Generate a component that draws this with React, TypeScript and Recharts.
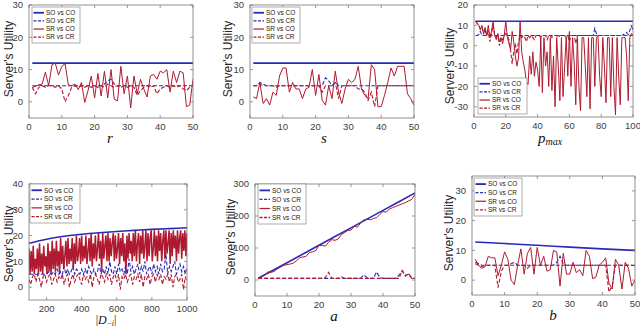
import { LineChart, Line, XAxis, YAxis } from 'recharts';

const BLUE = '#2a2ab9';
const RED = '#b01a30';
const FONT = '"Liberation Sans", Arial, sans-serif';
const MATH = '"Liberation Serif", "DejaVu Serif", serif';

// x categories
const range = (start: number, step: number, n: number) => Array.from({ length: n }, (_, i) => start + i * step);
const x50 = range(1, 1, 50);
const x100 = range(1, 1, 100);
const xD6 = range(100, 6, 151);
const xD10 = range(100, 10, 91);
const xEnds50 = [1, 50];
const xSix = [1, 10, 20, 30, 40, 50];
const xDcurve = [100, 200, 300, 400, 500, 600, 700, 800, 900, 1000];

// panel r
const rSoCo = [12, 12];
const rSoCr = [5, 5, 5.3, 5, 5, 5, 5, 5, 5, 5, 5, 5, 5, 5, 5, 5, 5, 5, 5, 5, 5, 5, 5.5, 6.5, 7, 5.5, 5, 5, 5, 5, 5, 5, 5, 5, 5, 5, 5, 5, 5, 5, 5, 5, 5, 5, 5, 5, 5, 5, 5, 5];
const rSrCo = [4.5, 4.8, 5.2, 5.5, 9.2, 5, 11.5, 12, 8.3, 11, 11.8, 5.2, 5, 5.5, 3.8, 6, -0.2, 3.5, 8, 1.2, 8.8, 1.8, 9.5, 1.2, 10, 0.8, 0.3, 11, 2.5, 8, -1.9, 8, 2.5, 7, 4, 1.5, 8, 8.5, 7, 9.5, 9, 10, 3, 9.5, 6, 9.5, 9, -1.5, -1, 7];
const rSrCr = [4.5, 2.5, 4.5, 5, 4.5, 5, 5, 4.5, 5, 4, 0, 2, 4.5, 5, 4.5, 5, 4.5, 5, 4.5, 5, 4.5, 5, 4.5, 5.5, 5, 4.5, 5, 4.5, 5, 4.5, 5, 4.5, 2, 3.5, 4.5, 5, 4.5, 5, 2.5, 4, 4.5, 5, 4.5, 5, 4.5, 5, 4, 3.5, 4.5, 5];

// panel s
const sSoCo = [12, 12];
const sSoCr = [5, 5, 6, 5.5, 5, 5, 5, 5, 5, 5, 5, 5, 5, 5, 5, 5, 5, 5, 5, 5, 5, 5, 7.5, 6.5, 5, 6, 5, 5, 5, 5, 5, 5, 5, 5, 5, 5, 5, 5, 5, 5, 5, 5, 5, 5, 5, 5, 5, 5, 5, 5];
const sSrCo = [1.5, 1, 6, -0.5, 1, -1, 3, 2, 8, 10.5, 10.5, 3, 6, 4, 4, 1, 4, 4.5, 10, 2, 8.5, 0.5, -1, 5, 1, 9.5, 3, -0.5, 4, 7, 6, 7, 11, 4, 2, 1, 11.5, 10, -1.5, -1.5, 2, 6, 10.5, 8, 11, 11, 11, 2.5, 1, -1];
const sSrCr = [5, 5, 5.5, 5, 5, 5, 5, 4.5, 5, 5, 5, 5, 5, 5, 5, 5, 5, 5, 5, 5, 5, 3, 5, 5, 5, 6, 1, 5, 5, 5, 5, 5, 4, 4, 3, 0.5, 3, -1.5, 5, 5, 5, 5, 5, 5, 5, 5, 5, 5, 5, 5];

// panel p_max
const pSoCo = [12, 12];
const pSoCr = [5, 5, 5.5, 7, 5, 5, 5, 5, 5, 5, 5, 5, 5, 5, 5, 5, 5, 5, 5, 5, 5, 5, 5, 5, 5, 5, 5, 5, 5, 5, 5, 5, 5, 5, 5, 5, 5, 5, 5, 5, 5, 5, 5, 5, 5, 5, 5, 5, 5, 5, 5, 5, 5, 5, 5, 5, 5, 5, 5, 5, 5, 5, 5, 5, 5, 5, 5, 5, 5, 5, 5, 5, 5, 5, 5, 8.5, 6, 5, 5, 5, 5, 5, 5, 5, 5, 5, 5, 5, 5, 5, 5, 5, 5, 5.5, 5, 6.5, 5.5, 7.5, 9.5, 8];
const pSrCo = [12, 11, 10, 8, 10, 6, 9, 5, 10, 4, 7, 12, 5, 3, 6, 2, 4, 1, 5, 12, 4, 1, -2, 7, 2, -5, -10, -6, 12, -3, -8, -12, -18, -19, -5, -14, -3, -15, -8, -12, -20, 4, -23, 4, -10, -3, -20, 4, -22, -5, -30, 4, -10, -27, 4, -25, -10, 4, -15, 7, -20, 4, -8, -29, 4, -20, -32, 4, 4, -10, -25, 4, -31, 4, 4, -20, 4, 5, -15, -25, 4, -10, -28, 4, 4, -25, 4, -20, -34, 4, -15, -29, 4, 4, 4, -5, -27, 4, 6, 5];
const pSrCr = [12, 11, 10, 8, 9, 6, 8, 5, 7, 2, 6, 10, 5, 4, 5, 0, 4, 3, 5, 6, 5, 3, -2, -9, -3, 1, -4, 2, 5, 4, 5, 4, 2, 5, 4, 5, 4, 3, 5, 5, 5, 4, 5, 5, 5, 3, 5, 5, 4, 5, 5, 5, 4, 5, 5, 5, 5, 4, 5, 2, 5, 5, 5, 1, 5, 5, 5, 5, 5, 5, 5, 5, 5, 5, 5, 5, 5, 5, 5, 5, 5, 5, 5, 5, 5, 5, 5, 5, 5, 5, 5, 5, 5, 5, 5, 5, 5, 5, 5, 5];

// panel |D_-i|
const dSoCo = [17, 18.6, 19.7, 20.5, 21.1, 21.6, 22, 22.4, 22.7, 23];
const dSoCr = [5, 5, 5, 5, 5, 5, 5, 5, 5, 5, 5, 6, 5, 5, 6, 5, 7, 5, 6, 5, 8, 5, 7, 5, 6, 8, 5, 7, 6, 5, 7, 5, 7, 5, 8, 6, 5, 7, 5, 6, 9, 5, 7, 5, 8, 5, 10, 6, 5, 8, 5, 9, 6, 7, 5, 8, 5, 11, 6, 8, 5, 7, 9, 5, 8, 6, 10, 5, 7, 8, 5, 9, 6, 8, 5, 9, 6, 7, 13, 5, 8, 6, 8, 10, 5, 7, 9, 6, 8, 5, 8];
const dSrCo = [15, 5, 14, 6, 16, 5, 11, 7, 15, 5, 17, 6, 13, 5, 16, 8, 12, 5, 17, 6, 14, 5, 18, 7, 15, 6, 18, 8, 14, 5, 19, 9, 16, 7, 12, 18, 8, 19, 9, 15, 10, 19, 7, 17, 9, 20, 10, 13, 19, 9, 20, 10, 16, 11, 20, 9, 14, 19, 10, 21, 8, 17, 11, 20, 10, 15, 21, 11, 18, 6, 21, 11, 16, 20, 10, 21, 10, 19, 12, 17, 21, 10, 20, 11, 15, 21, 9, 19, 12, 21, 10, 17, 5, 20, 11, 21, 13, 18, 10, 21, 12, 22, 10, 17, 21, 9, 20, 13, 22, 11, 16, 22, 10, 21, 12, 19, 22, 10, 15, 22, 12, 20, 10, 22, 14, 21, 10, 18, 22, 11, 22, 13, 17, 22, 9, 21, 12, 22, 15, 20, 10, 22, 13, 19, 22, 11, 21, 14, 22, 12, 21];
const dSrCr = [3, 1, 4, 5, 2, 5, 3, 0, 4, 5, 2, 4, 5, 1, 3, 5, 2, 4, 3, 5, 1, 4, 5, 0, 3, 5, 2, 4, 5, 3, 1, 5, 3, 4, 2, 5, 0, 4, 5, 3, 1, 5, 4, 2, 5, 3, 5, 1, 4, 5, 2, 5, -1, 4, 3, 5, 2, 4, 5, 1, 4, 3, 5, 2, 5, 0, 4, 3, 5, 1, 4, 5, 2, 5, 3, 5, 1, 4, 3, 5, 2, 5, 0, 4, 5, 2, 3, 5, -1, 4, 2];

// panel a
const aSoCo = [5.5, 54, 108.5, 163, 217.5, 272];
const aSoCr = [5, 5, 5, 5, 5, 5, 5, 5, 5, 5, 5, 5, 5, 5, 5, 5, 5, 5, 5, 5, 5, 5, 5, 5, 5, 5, 5, 5, 5, 5, 5, 5, 5, 16, 8, 5, 5, 25, 8, 5, 5, 5, 5, 5, 15, 28, 12, 20, 6, 5];
const aSrCo = [3, 9, 15, 25, 24, 27, 35, 40, 46, 48, 50, 53, 60, 70, 72, 74, 86, 88, 92, 108, 108, 106, 118, 126, 124, 128, 142, 148, 155, 156, 168, 165, 178, 188, 190, 188, 192, 195, 205, 214, 212, 222, 226, 230, 234, 238, 242, 247, 252, 268];
const aSrCr = [5, 5, 5, 5, 5, 5, 5, 5, 5, 5, 5, 5, 5, 5, 5, 5, 5, 5, 5, 5, 5, 8, 24, 5, 5, 5, 10, 5, 5, 5, 5, 5, 5, 5, 5, 5, 5, 5, 5, 5, 5, 5, 5, 5, 5, 30, 15, 18, 5, 5];

// panel b
const bSoCo = [12.8, 12.3, 11.7, 11.1, 10.5, 10];
const bSoCr = [6, 5.5, 5, 5, 5, 5, 5, 5, 5, 5, 5, 5.5, 6, 5, 5, 5, 5, 5, 5, 5, 5, 5, 5, 5, 5, 6, 8, 5.5, 5, 5, 5, 5, 5, 5, 5, 5, 5, 5, 5, 5, 5, 5, 5, 5, 5, 5, 5, 5, 5, 4.8];
const bSrCo = [7, 5, 4, 4.5, 8, 7.5, 7.5, 1.5, 5, 9.5, 7, 0, -1.5, 5, 10.5, 2, 9, 11, 2, 11, 5, 8, 3, 3.5, 10, 9.5, -2, 9, 2, 2, 6, 2.5, 3.5, 1.5, 10, 8, 0.5, 1, 5, 6, 7.5, -1, -3, 7, 5, -3, 6, 4, -2, 0];
const bSrCr = [5.5, 5, 4.5, 5, 5, 5, 5, -2.5, 3, 5, 5, 5, 5, 5, 5, 5, 4, 5, 5, 5, 5, 5, 5, 5, 5, 5, 5, 5, 5, 5, 5, 5, 5, 5, 5, 5, 5, 5, 5, 5, 5, -4, -2, 5, 5, 5, 5, 5, 5, 5];

const legendNames = ['SO vs CO', 'SO vs CR', 'SR vs CO', 'SR vs CR'];

const pts = (xs: number[], ys: number[]) => ys.map((y, i) => ({ x: xs[i], y }));

type Series = { data: { x: number; y: number }[]; color: string; dash?: string; width: number; curve?: 'linear' | 'monotone' };

const soCo = (xs: number[], ys: number[]): Series => ({ data: pts(xs, ys), color: BLUE, width: 1.6, curve: 'monotone' });
const soCr = (xs: number[], ys: number[]): Series => ({ data: pts(xs, ys), color: BLUE, width: 1.1, dash: '4 2' });
const srCo = (xs: number[], ys: number[], width = 1): Series => ({ data: pts(xs, ys), color: RED, width });
const srCr = (xs: number[], ys: number[]): Series => ({ data: pts(xs, ys), color: RED, width: 1.1, dash: '4 2' });

const panels = [
  {
    left: 29, top: 5, w: 164, h: 113, xDomain: [0, 50], xTicks: [0, 10, 20, 30, 40, 50], yDomain: [-5, 30], yTicks: [0, 10, 20, 30],
    series: [soCo(xEnds50, rSoCo), soCr(x50, rSoCr), srCo(x50, rSrCo), srCr(x50, rSrCr)],
    legend: { x: 32, y: 7, w: 48, h: 36 }, ylab: { x: 9, y: 59 },
  },
  {
    left: 250, top: 5, w: 164, h: 113, xDomain: [0, 50], xTicks: [0, 10, 20, 30, 40, 50], yDomain: [-5, 30], yTicks: [0, 10, 20, 30],
    series: [soCo(xEnds50, sSoCo), soCr(x50, sSoCr), srCo(x50, sSrCo), srCr(x50, sSrCr)],
    legend: { x: 252, y: 7, w: 48, h: 36 }, ylab: { x: 228, y: 59 },
  },
  {
    left: 474, top: 5, w: 159, h: 112, xDomain: [0, 100], xTicks: [0, 20, 40, 60, 80, 100], yDomain: [-35, 20], yTicks: [-30, -20, -10, 0, 10, 20],
    series: [soCo([1, 100], pSoCo), soCr(x100, pSoCr), srCo(x100, pSrCo), srCr(x100, pSrCr)],
    legend: { x: 478, y: 78, w: 49, h: 36 }, ylab: { x: 450, y: 66 },
  },
  {
    left: 29, top: 184, w: 158, h: 116, xDomain: [100, 1000], xTicks: [200, 400, 600, 800, 1000], yDomain: [-5, 40], yTicks: [0, 10, 20, 30, 40],
    series: [srCo(xD6, dSrCo, 1.5), srCr(xD10, dSrCr), soCr(xD10, dSoCr), soCo(xDcurve, dSoCo)],
    legend: { x: 30, y: 184, w: 50, h: 39 }, ylab: { x: 9, y: 244 },
  },
  {
    left: 255, top: 184, w: 160, h: 112, xDomain: [0, 50], xTicks: [0, 10, 20, 30, 40, 50], yDomain: [-50, 300], yTicks: [0, 100, 200, 300],
    series: [soCo(xSix, aSoCo), soCr(x50, aSoCr), srCo(x50, aSrCo), srCr(x50, aSrCr)],
    legend: { x: 258, y: 184, w: 48, h: 40 }, ylab: { x: 231, y: 237 },
  },
  {
    left: 472, top: 176, w: 163, h: 119, xDomain: [0, 50], xTicks: [0, 10, 20, 30, 40, 50], yDomain: [-5, 35], yTicks: [0, 10, 20, 30],
    series: [soCo(xSix, bSoCo), soCr(x50, bSoCr), srCo(x50, bSrCo), srCr(x50, bSrCr)],
    legend: { x: 474, y: 178, w: 48, h: 38 }, ylab: { x: 449, y: 233 },
  },
];

const M = { top: 5, right: 16, left: 30, bottom: 20 };

function Panel({ p }: { p: (typeof panels)[number] }) {
  const bottom = M.top + p.h;
  const right = M.left + p.w;
  const XTick = (props: any) => {
    const { x, payload } = props;
    return (
      <g>
        <line x1={x} x2={x} y1={bottom} y2={bottom - 3} stroke="#555" strokeWidth={0.6} />
        <line x1={x} x2={x} y1={M.top} y2={M.top + 3} stroke="#555" strokeWidth={0.6} />
        <text x={x} y={bottom + 11.5} textAnchor="middle" fontSize={9.5} fill="#404040" fontFamily={FONT}>{payload.value}</text>
      </g>
    );
  };
  const YTick = (props: any) => {
    const { y, payload } = props;
    return (
      <g>
        <line x1={M.left} x2={M.left + 3} y1={y} y2={y} stroke="#555" strokeWidth={0.6} />
        <line x1={right} x2={right - 3} y1={y} y2={y} stroke="#555" strokeWidth={0.6} />
        <text x={M.left - 6} y={y + 3.3} textAnchor="end" fontSize={9.5} fill="#404040" fontFamily={FONT}>{payload.value}</text>
      </g>
    );
  };
  return (
    <div style={{ position: 'absolute', left: p.left - M.left, top: p.top - M.top }}>
      <LineChart width={p.w + M.left + M.right} height={p.h + M.top + M.bottom} margin={{ top: M.top, right: M.right, left: 0, bottom: 0 }}>
        <XAxis type="number" dataKey="x" domain={p.xDomain} ticks={p.xTicks} interval={0} height={M.bottom} axisLine={false} tickLine={false} tick={XTick} allowDataOverflow />
        <YAxis type="number" domain={p.yDomain} ticks={p.yTicks} interval={0} width={M.left} axisLine={false} tickLine={false} tick={YTick} allowDataOverflow />
        {p.series.map((s, i) => (
          <Line key={i} data={s.data} dataKey="y" type={s.curve ?? 'linear'} stroke={s.color} strokeWidth={s.width} strokeDasharray={s.dash} dot={false} activeDot={false} isAnimationActive={false} />
        ))}
      </LineChart>
    </div>
  );
}

function Legend({ x, y, w, h }: { x: number; y: number; w: number; h: number }) {
  const styles = [
    { c: BLUE, d: undefined, sw: 1.8 },
    { c: BLUE, d: '3 1.5', sw: 1.3 },
    { c: RED, d: undefined, sw: 1.2 },
    { c: RED, d: '3 1.5', sw: 1.3 },
  ];
  return (
    <g>
      <rect x={x} y={y} width={w} height={h} fill="#fff" stroke="#777" strokeWidth={0.6} />
      {legendNames.map((n, i) => {
        const ry = y + h * (0.16 + 0.226 * i);
        return (
          <g key={n}>
            <line x1={x + 1.5} x2={x + 12} y1={ry} y2={ry} stroke={styles[i].c} strokeWidth={styles[i].sw} strokeDasharray={styles[i].d} />
            <text x={x + 14} y={ry + 2.3} fontSize={6.5} fill="#222" fontFamily={FONT}>{n}</text>
          </g>
        );
      })}
    </g>
  );
}

export default function App() {
  return (
    <div style={{ position: 'absolute', left: 0, top: 0, width: 640, height: 326, background: '#fff', overflow: 'hidden' }}>
      {panels.map((p, i) => <Panel key={i} p={p} />)}
      <svg width={640} height={326} style={{ position: 'absolute', left: 0, top: 0, pointerEvents: 'none' }}>
        {panels.map((p, i) => (
          <g key={i}>
            <rect x={p.left} y={p.top} width={p.w} height={p.h} fill="none" stroke="#777" strokeWidth={0.8} />
            <Legend {...p.legend} />
            <text x={p.ylab.x} y={p.ylab.y} transform={`rotate(-90 ${p.ylab.x} ${p.ylab.y})`} textAnchor="middle" dominantBaseline="central" fontSize={12} fill="#262626" fontFamily={FONT}>Server's Utility</text>
          </g>
        ))}
        <g fontFamily={MATH} fontStyle="italic" fill="#111" textAnchor="middle">
          <text x={110} y={143} fontSize={15}>r</text>
          <text x={324} y={143} fontSize={15}>s</text>
          <text x={550} y={143} fontSize={15}>p<tspan fontSize={10} dy={2}>max</tspan></text>
          <text x={106} y={323.5} fontSize={12}><tspan fontStyle="normal">|</tspan>D<tspan fontSize={7.5} dy={2}>−i</tspan><tspan fontStyle="normal" dy={-2}>|</tspan></text>
          <text x={334} y={321} fontSize={15}>a</text>
          <text x={553} y={320} fontSize={15}>b</text>
        </g>
      </svg>
    </div>
  );
}
